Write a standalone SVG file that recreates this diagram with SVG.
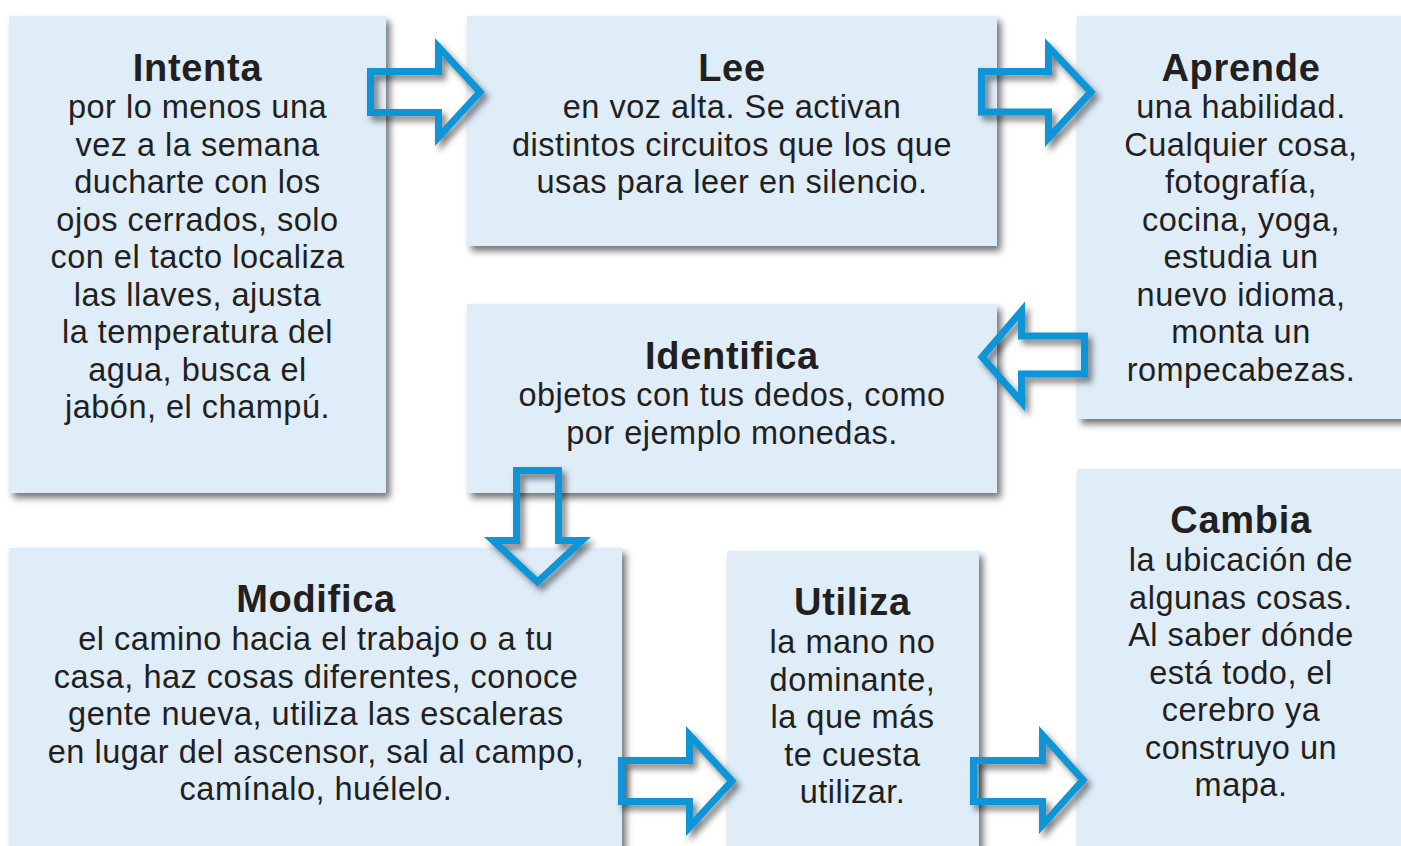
<svg xmlns="http://www.w3.org/2000/svg" width="1401" height="846" viewBox="0 0 1401 846">
<defs>
<filter id="sh" x="-10%" y="-10%" width="130%" height="130%">
<feDropShadow dx="4" dy="5" stdDeviation="3.5" flood-color="#000" flood-opacity="0.55"/>
</filter>
<filter id="ash" x="-20%" y="-20%" width="150%" height="150%">
<feDropShadow dx="4" dy="5" stdDeviation="3" flood-color="#000" flood-opacity="0.5"/>
</filter>
</defs>
<style>
.box{fill:#dfedf9;filter:url(#sh)}
.t{font-family:"Liberation Sans",Arial,sans-serif;font-weight:bold;font-size:38px;letter-spacing:0.7px;fill:#231f20;text-anchor:middle}
.b{font-family:"Liberation Sans",Arial,sans-serif;font-size:32.5px;letter-spacing:0.5px;fill:#231f20;text-anchor:middle}
.arr{fill:none;stroke:#0795d8;stroke-width:7;stroke-linejoin:miter;stroke-miterlimit:10;filter:url(#ash)}
</style>
<rect width="1401" height="846" fill="#ffffff"/>

<g id="intenta">
<rect class="box" x="9" y="16" width="377" height="477"/>
<text class="t" x="197.5" y="81">Intenta</text>
<text class="b" x="197.5" y="118">por lo menos una</text>
<text class="b" x="197.5" y="155.5">vez a la semana</text>
<text class="b" x="197.5" y="193">ducharte con los</text>
<text class="b" x="197.5" y="230.5">ojos cerrados, solo</text>
<text class="b" x="197.5" y="268">con el tacto localiza</text>
<text class="b" x="197.5" y="305.5">las llaves, ajusta</text>
<text class="b" x="197.5" y="343">la temperatura del</text>
<text class="b" x="197.5" y="380.5">agua, busca el</text>
<text class="b" x="197.5" y="418">jabón, el champú.</text>
</g>

<g id="lee">
<rect class="box" x="467" y="16" width="530" height="230"/>
<text class="t" x="732" y="81">Lee</text>
<text class="b" x="732" y="118">en voz alta. Se activan</text>
<text class="b" x="732" y="155.5">distintos circuitos que los que</text>
<text class="b" x="732" y="193">usas para leer en silencio.</text>
</g>

<g id="aprende">
<rect class="box" x="1077" y="16" width="330" height="403"/>
<text class="t" x="1241" y="81">Aprende</text>
<text class="b" x="1241" y="118">una habilidad.</text>
<text class="b" x="1241" y="155.5">Cualquier cosa,</text>
<text class="b" x="1241" y="193">fotografía,</text>
<text class="b" x="1241" y="230.5">cocina, yoga,</text>
<text class="b" x="1241" y="268">estudia un</text>
<text class="b" x="1241" y="305.5">nuevo idioma,</text>
<text class="b" x="1241" y="343">monta un</text>
<text class="b" x="1241" y="380.5">rompecabezas.</text>
</g>

<g id="identifica">
<rect class="box" x="467" y="304" width="530" height="189"/>
<text class="t" x="732" y="369">Identifica</text>
<text class="b" x="732" y="406">objetos con tus dedos, como</text>
<text class="b" x="732" y="443.5">por ejemplo monedas.</text>
</g>

<g id="modifica">
<rect class="box" x="9" y="548" width="613" height="310"/>
<text class="t" x="316" y="612">Modifica</text>
<text class="b" x="316" y="650">el camino hacia el trabajo o a tu</text>
<text class="b" x="316" y="687.5">casa, haz cosas diferentes, conoce</text>
<text class="b" x="316" y="725">gente nueva, utiliza las escaleras</text>
<text class="b" x="316" y="762.5">en lugar del ascensor, sal al campo,</text>
<text class="b" x="316" y="800">camínalo, huélelo.</text>
</g>

<g id="utiliza">
<rect class="box" x="727" y="551" width="252" height="307"/>
<text class="t" x="852.5" y="615">Utiliza</text>
<text class="b" x="852.5" y="653">la mano no</text>
<text class="b" x="852.5" y="690.5">dominante,</text>
<text class="b" x="852.5" y="728">la que más</text>
<text class="b" x="852.5" y="765.5">te cuesta</text>
<text class="b" x="852.5" y="803">utilizar.</text>
</g>

<g id="cambia">
<rect class="box" x="1077" y="469" width="330" height="390"/>
<text class="t" x="1241" y="533">Cambia</text>
<text class="b" x="1241" y="571">la ubicación de</text>
<text class="b" x="1241" y="608.5">algunas cosas.</text>
<text class="b" x="1241" y="646">Al saber dónde</text>
<text class="b" x="1241" y="683.5">está todo, el</text>
<text class="b" x="1241" y="721">cerebro ya</text>
<text class="b" x="1241" y="758.5">construyo un</text>
<text class="b" x="1241" y="796">mapa.</text>
</g>

<g id="connectors">
<polygon class="arr" points="370.5,71.5 438.5,71.5 438.5,47 480,92 438.5,137 438.5,112.5 370.5,112.5"/>
<polygon class="arr" points="981.5,71.5 1048.5,71.5 1048.5,47 1091,92 1048.5,138 1048.5,112 981.5,112"/>
<polygon class="arr" points="1084.5,336 1021.5,336 1021.5,311 982,357 1021.5,402 1021.5,374 1084.5,374"/>
<polygon class="arr" points="516.5,470.5 558.5,470.5 558.5,540.5 582,540.5 537.5,582 493,540.5 516.5,540.5"/>
<polygon class="arr" points="621.5,760.5 689.5,760.5 689.5,735 732,781 689.5,827 689.5,801.5 621.5,801.5"/>
<polygon class="arr" points="973.5,760.5 1042.5,760.5 1042.5,735 1083,780 1042.5,825 1042.5,801.5 973.5,801.5"/>
</g>
</svg>
